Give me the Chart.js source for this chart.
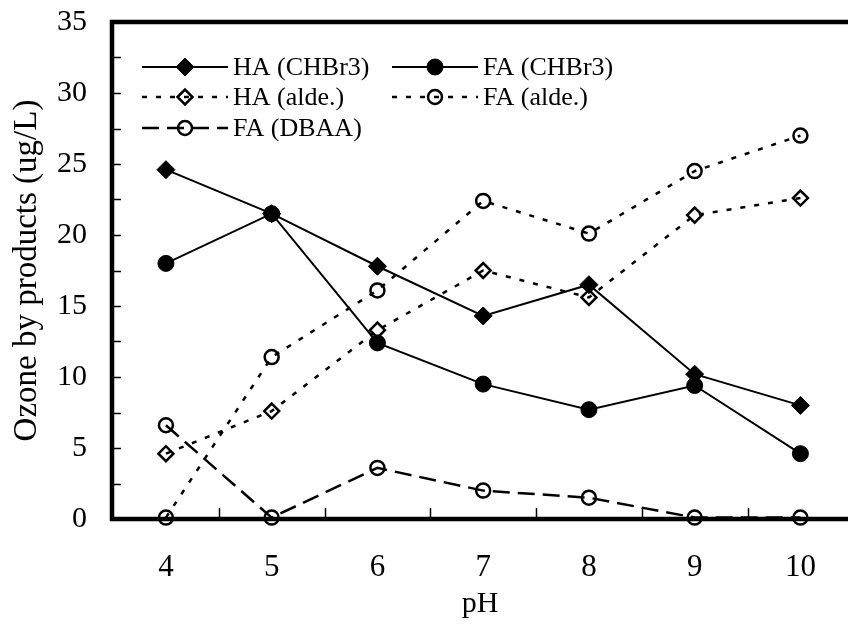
<!DOCTYPE html>
<html>
<head>
<meta charset="utf-8">
<script src="https://cdn.jsdelivr.net/npm/chart.js@4/dist/chart.umd.min.js"></script>
<style>
  html, body { margin: 0; padding: 0; background: #fff; overflow: hidden; }
  #chart { display: block; }
</style>
</head>
<body>
<canvas id="chart" width="848" height="626"></canvas>
<script>
// pH values and measured by-products (ug/L)
const phValues = [4, 5, 6, 7, 8, 9, 10];
const haChbr3 = [24.6, 21.5, 17.8, 14.3, 16.5, 10.2, 8.0];
const faChbr3 = [18.0, 21.5, 12.4, 9.5, 7.7, 9.4, 4.6];
const haAlde = [4.6, 7.6, 13.3, 17.5, 15.6, 21.4, 22.6];
const faAlde = [0.1, 11.4, 16.1, 22.4, 20.1, 24.5, 27.0];
const faDbaa = [6.6, 0.1, 3.6, 2.0, 1.5, 0.1, 0.1];
const seriesNames = ["HA (CHBr3)", "FA (CHBr3)", "HA (alde.)", "FA (alde.)", "FA (DBAA)"];
const yTickLabels = [0, 5, 10, 15, 20, 25, 30, 35];

const SERIF = "'Liberation Serif', 'Times New Roman', serif";
const toPoints = (vals) => phValues.map((ph, i) => ({ x: ph, y: vals[i] }));

// marco grueso y marcas cortas hacia dentro
const frameAndTicks = {
  id: "frameAndTicks",
  beforeDatasetsDraw(chart) {
    const { ctx, chartArea: a, scales: { x, y } } = chart;
    ctx.save();
    ctx.strokeStyle = "#000";
    ctx.lineWidth = 1.5;
    for (let v = 2.5; v < 35; v += 2.5) {
      const py = Math.round(y.getPixelForValue(v)) + 0.5;
      ctx.beginPath();
      ctx.moveTo(a.left, py);
      ctx.lineTo(a.left + 9, py);
      ctx.stroke();
    }
    for (let v = 4.5; v <= 10; v += 1) {
      const px = Math.round(x.getPixelForValue(v)) + 0.5;
      ctx.beginPath();
      ctx.moveTo(px, a.bottom);
      ctx.lineTo(px, a.bottom - 11);
      ctx.stroke();
    }
    // el lado derecho del marco queda fuera de la imagen
    ctx.lineWidth = 4.5;
    ctx.strokeRect(a.left, a.top, a.right + 8 - a.left, a.bottom - a.top);
    ctx.restore();
  },
};

// leyenda en dos columnas dentro del área
const innerLegend = {
  id: "innerLegend",
  afterDraw(chart) {
    const { ctx } = chart;
    const colX = [142, 392];
    const rowY = [67, 97, 128];
    const lineLen = 86;
    ctx.save();
    chart.data.datasets.forEach((ds, i) => {
      const col = i % 2;
      const row = Math.floor(i / 2);
      const x0 = colX[col];
      const yy = rowY[row];
      ctx.strokeStyle = "#000";
      ctx.lineWidth = ds.borderWidth;
      ctx.setLineDash(ds.borderDash || []);
      ctx.beginPath();
      ctx.moveTo(x0, yy);
      ctx.lineTo(x0 + lineLen, yy);
      ctx.stroke();
      ctx.setLineDash([]);
      ctx.fillStyle = ds.pointBackgroundColor;
      ctx.strokeStyle = "#000";
      ctx.lineWidth = ds.pointBorderWidth;
      Chart.helpers.drawPoint(ctx, {
        pointStyle: ds.pointStyle,
        radius: ds.pointRadius,
        rotation: 0,
        borderWidth: ds.pointBorderWidth,
      }, x0 + lineLen / 2, yy);
      ctx.fillStyle = "#000";
      ctx.font = "26px " + SERIF;
      ctx.textAlign = "left";
      ctx.textBaseline = "middle";
      ctx.fillText(ds.label, x0 + lineLen + 5, yy + 1);
    });
    ctx.restore();
  },
};

const baseSet = {
  borderColor: "#000",
  pointBorderColor: "#000",
  clip: false,
  tension: 0,
};

new Chart(document.getElementById("chart"), {
  type: "line",
  data: {
    datasets: [
      { ...baseSet, label: seriesNames[0], data: toPoints(haChbr3), borderWidth: 2,
        pointStyle: "rectRot", pointRadius: 9, pointBackgroundColor: "#000", pointBorderWidth: 1 },
      { ...baseSet, label: seriesNames[1], data: toPoints(faChbr3), borderWidth: 2,
        pointStyle: "circle", pointRadius: 8, pointBackgroundColor: "#000", pointBorderWidth: 1 },
      { ...baseSet, label: seriesNames[2], data: toPoints(haAlde), borderWidth: 2.5, borderDash: [5, 9],
        pointStyle: "rectRot", pointRadius: 7.5, pointBackgroundColor: "rgba(0,0,0,0)", pointBorderWidth: 2.5 },
      { ...baseSet, label: seriesNames[3], data: toPoints(faAlde), borderWidth: 2.5, borderDash: [5, 9],
        pointStyle: "circle", pointRadius: 7, pointBackgroundColor: "rgba(0,0,0,0)", pointBorderWidth: 2.5 },
      { ...baseSet, label: seriesNames[4], data: toPoints(faDbaa), borderWidth: 2.5, borderDash: [17, 8],
        pointStyle: "circle", pointRadius: 7, pointBackgroundColor: "rgba(0,0,0,0)", pointBorderWidth: 2.5 },
    ],
  },
  options: {
    responsive: false,
    animation: false,
    layout: { autoPadding: false, padding: { top: 22, right: 0, left: 0, bottom: 0 } },
    plugins: {
      legend: { display: false },
      tooltip: { enabled: false },
    },
    scales: {
      x: {
        type: "linear",
        min: 3.49,
        max: 10.45,
        afterFit: (scale) => { scale.height = 107; scale.paddingLeft = 0; scale.paddingRight = 0; },
        afterBuildTicks: (scale) => { scale.ticks = phValues.map((v) => ({ value: v })); },
        grid: { display: false },
        border: { display: false },
        ticks: {
          color: "#000",
          padding: 22,
          font: { family: SERIF, size: 31 },
        },
        title: {
          display: true,
          text: "pH",
          color: "#000",
          font: { family: SERIF, size: 30 },
          padding: { top: 0, bottom: 4 },
        },
      },
      y: {
        min: 0,
        max: 35,
        afterFit: (scale) => { scale.width = 112; scale.paddingTop = 0; scale.paddingBottom = 0; },
        afterBuildTicks: (scale) => { scale.ticks = yTickLabels.map((v) => ({ value: v })); },
        grid: { display: false },
        border: { display: false },
        ticks: {
          color: "#000",
          padding: 17,
          font: { family: SERIF, size: 30 },
        },
        title: {
          display: true,
          text: "Ozone by products (ug/L)",
          color: "#000",
          font: { family: SERIF, size: 33 },
          padding: { top: 8, bottom: 0 },
        },
      },
    },
  },
  plugins: [frameAndTicks, innerLegend],
});
</script>
</body>
</html>
